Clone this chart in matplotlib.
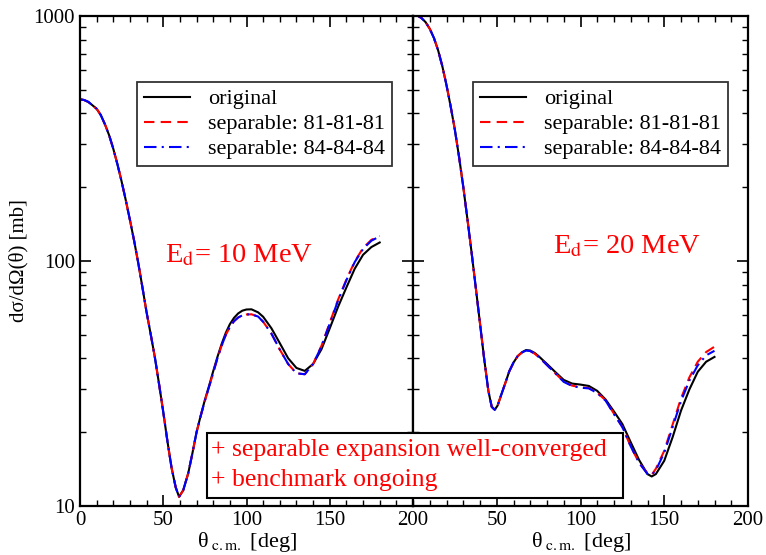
import matplotlib
matplotlib.use('Agg')
import matplotlib.pyplot as plt
from matplotlib.patches import Rectangle
from matplotlib.ticker import LogLocator, MultipleLocator, NullFormatter, FixedFormatter, FixedLocator

plt.rcParams['font.family'] = ['Liberation Serif', 'DejaVu Serif']
plt.rcParams['mathtext.fontset'] = 'stix'

# E_d = 10 MeV
th10 = [0, 2.5, 5, 7.5, 10, 12.5, 15, 17.5, 20, 22.5, 25, 27.5, 30, 32.5, 35, 37.5,
        40, 42.5, 45, 47.5, 50, 52.5, 55, 57.5, 59.5, 62, 65, 67.5, 70, 72.5, 75,
        77.5, 80, 82.5, 85, 87.5, 90, 92.5, 95, 97.5, 100, 103, 107, 110, 115, 120,
        125, 130, 135, 140, 145, 150, 155, 160, 165, 170, 175, 180]
orig10 = [457, 454, 446, 432, 418, 394, 361, 326, 287, 248, 211, 177, 147, 121, 98, 78,
          61.7, 50.1, 40.3, 31.4, 24.2, 18.4, 14.3, 11.9, 10.9, 11.6, 13.6, 16.4, 20,
          23.4, 27.1, 30.9, 35.5, 40.5, 45.7, 50.8, 55.2, 58.6, 61.1, 62.7, 63.4, 63.5,
          61.7, 59.2, 53.1, 46.2, 40.1, 36.6, 35.6, 38, 43.6, 53.1, 65, 78, 93, 106,
          114, 119]
sep81_10 = [457, 454, 446, 432, 418, 394, 361, 326, 287, 248, 211, 177, 147, 121, 98, 78,
            61.7, 50.1, 40.3, 31.4, 24.2, 18.4, 14.3, 11.9, 10.9, 11.6, 13.6, 16.4, 20,
            23.3, 26.9, 30.6, 35, 40, 45, 49.8, 53.8, 56.8, 58.8, 60, 60.5, 60.6, 59.3,
            56.5, 50.5, 43.5, 38, 34.8, 34.5, 38, 45, 56, 69.5, 84, 99.5, 113, 122, 126.5]
sep84_10 = [457, 454, 446, 432, 418, 394, 361, 326, 287, 248, 211, 177, 147, 121, 98, 78,
            61.7, 50.1, 40.3, 31.4, 24.2, 18.4, 14.3, 11.9, 10.9, 11.6, 13.6, 16.4, 20,
            23.3, 26.9, 30.6, 35, 40, 45, 49.8, 53.8, 56.8, 58.8, 60, 60.5, 60.6, 59.3,
            56.5, 50.5, 43.5, 38, 34.8, 34.5, 38, 44.8, 55.5, 69, 83.5, 99, 112, 121, 126]

# E_d = 20 MeV
th20 = [0, 2.5, 5, 7.5, 10, 12.5, 15, 17.5, 20, 22.5, 25, 27.5, 30, 32.5, 35, 37.5,
        40, 42.5, 45, 47, 48.8, 50.5, 52.5, 55, 57.5, 60, 62.5, 65, 67.5, 70, 72.5,
        75, 77.5, 80, 85, 90, 95, 100, 105, 110, 115, 120, 125, 130, 135, 140, 142.5,
        145, 150, 155, 160, 165, 170, 175, 180]
orig20 = [1014, 1005, 982, 944, 887, 813, 724, 624, 522, 427, 343, 266, 201, 148, 108,
          77.6, 55.6, 39.8, 29.5, 25.4, 24.7, 25.7, 28.2, 31.6, 35.5, 38.5, 40.9, 42.4,
          43.3, 43.1, 42.2, 40.9, 39.4, 38, 35.2, 32.7, 31.6, 31.3, 30.9, 29.5, 27.2,
          24.3, 21.6, 18.2, 15.4, 13.5, 13.2, 13.5, 15.3, 19.1, 24.5, 29.9, 35.3, 38.8,
          40.6]
sep81_20 = [1014, 1005, 982, 944, 887, 813, 724, 624, 522, 427, 343, 266, 201, 148, 108,
            77.6, 55.6, 39.8, 29.5, 25.4, 24.7, 25.7, 28.2, 31.6, 35.5, 38.5, 40.9, 42.3,
            43.1, 42.9, 41.9, 40.6, 39.1, 37.6, 34.8, 32.2, 31, 30.5, 30.3, 29, 27, 23.8,
            21, 17.5, 15, 13.6, 13.4, 14.2, 16.8, 21.5, 27.5, 33.5, 38.8, 42.5, 44.7]
sep84_20 = [1014, 1005, 982, 944, 887, 813, 724, 624, 522, 427, 343, 266, 201, 148, 108,
            77.6, 55.6, 39.8, 29.5, 25.4, 24.7, 25.7, 28.2, 31.6, 35.5, 38.5, 40.9, 42.3,
            43.1, 42.9, 41.9, 40.6, 39.1, 37.6, 34.8, 32.1, 30.9, 30.4, 30.2, 28.9, 26.9,
            23.7, 21, 17.5, 15, 13.5, 13.4, 14, 16.5, 21, 26.8, 32.5, 37.5, 41.2, 43]

labels = ['original', 'separable: 81-81-81', 'separable: 84-84-84']
energies = ['E$_{\\rm d}$= 10 MeV', 'E$_{\\rm d}$= 20 MeV']

fig = plt.figure(figsize=(7.66, 5.55), dpi=100)
axL = fig.add_axes([80/766, 49/555, 333/766, 490/555])
axR = fig.add_axes([413/766, 49/555, 335/766, 490/555])

panels = [(axL, th10, orig10, sep81_10, sep84_10, energies[0], (0.255, 0.498), 0.171),
          (axR, th20, orig20, sep81_20, sep84_20, energies[1], (0.418, 0.516), 0.179)]

for ax, th, o, s1, s2, lab, pos, legx in panels:
    ax.plot(th, o, color='black', lw=1.5, label=labels[0])
    ax.plot(th, s1, color='red', lw=1.5, ls=(0, (5, 3)), label=labels[1])
    ax.plot(th, s2, color='blue', lw=1.5, ls=(0, (6, 2.5, 1, 2.5)), label=labels[2])
    ax.set_yscale('log')
    ax.set_xlim(0, 200)
    ax.set_ylim(10, 1000)
    ax.xaxis.set_major_locator(MultipleLocator(50))
    ax.xaxis.set_minor_locator(MultipleLocator(10))
    ax.yaxis.set_major_locator(FixedLocator([10, 100, 1000]))
    ax.yaxis.set_minor_locator(LogLocator(base=10, subs=range(2, 10), numticks=10))
    ax.yaxis.set_minor_formatter(NullFormatter())
    ax.tick_params(which='both', direction='in', top=True, right=True, labelsize=15)
    ax.tick_params(which='major', length=8, width=1.2)
    ax.tick_params(which='minor', length=4, width=1.0)
    for sp in ax.spines.values():
        sp.set_linewidth(1.6)
    ax.set_xlabel('θ$_{\\ \\mathrm{c.m.}}$ [deg]', fontsize=16, labelpad=0)
    ax.text(pos[0], pos[1], lab, transform=ax.transAxes, color='red', fontsize=20.5)
    leg = ax.legend(loc='upper left', bbox_to_anchor=(legx, 0.865),
                    fontsize=16, frameon=True, fancybox=False, edgecolor='black',
                    handlelength=2.1, labelspacing=0.2, borderpad=0.3,
                    handletextpad=0.8, borderaxespad=0)
    leg.get_frame().set_linewidth(1.3)

axL.yaxis.set_major_formatter(FixedFormatter(['10', '100', '1000']))
axL.set_ylabel('dσ/dΩ(θ) [mb]', fontsize=15, labelpad=4)
axR.set_yticklabels([])
axR.xaxis.set_major_locator(FixedLocator([50, 100, 150, 200]))

fig.patches.append(Rectangle((207/766, 1 - 498/555), 416/766, 65/555,
                             transform=fig.transFigure, facecolor='white',
                             edgecolor='black', lw=1.5, zorder=5))
fig.text(211/766, 1 - 450/555, '+ separable expansion well-converged', color='red',
         fontsize=18.5, va='center', zorder=6)
fig.text(211/766, 1 - 480/555, '+ benchmark ongoing', color='red',
         fontsize=18.5, va='center', zorder=6)

fig.savefig('out.png', dpi=100)
